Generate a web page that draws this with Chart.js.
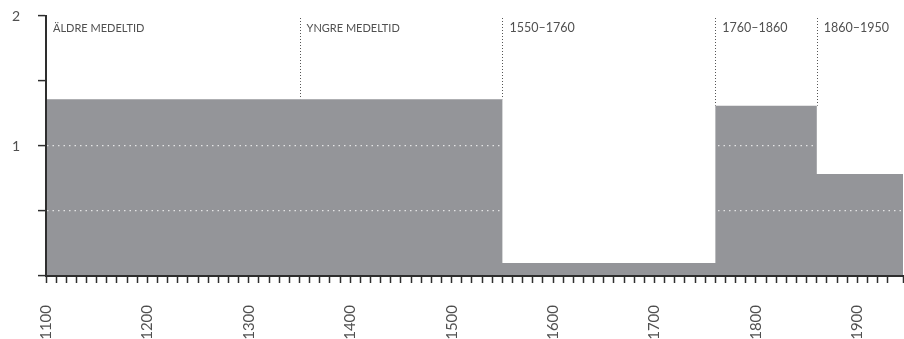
<!DOCTYPE html>
<html lang="sv">
<head>
<meta charset="utf-8">
<title>Perioder 1100–1950</title>
<script src="https://cdn.jsdelivr.net/npm/chart.js@4/dist/chart.umd.min.js"></script>
<style>
    html, body { margin: 0; padding: 0; background: #fff; }
    #wrap { width: 904px; height: 339px; position: relative; }
</style>
</head>
<body>
<div id="wrap"><canvas id="myChart"></canvas></div>
<script>
// step values: each value holds from its start year until the next start
const stepStarts = [1100, 1550, 1760, 1860];
const stepValues = [1.36, 0.10, 1.31, 0.785];
const lastYear = 1950;

// named periods shown along the top of the chart
const eraStarts = [1100, 1350, 1550, 1760, 1860];
const eraNames = ['ÄLDRE MEDELTID', 'YNGRE MEDELTID', '1550–1760', '1760–1860', '1860–1950'];
const eraSmallCaps = [true, true, false, false, false];

const fontFamily = 'Lato, "Open Sans", sans-serif';
const textColor = '#505050';
const axisColor = '#2e2e2e';

const points = stepStarts.map((x, i) => ({ x: x, y: stepValues[i] }));
points.push({ x: lastYear, y: stepValues[stepValues.length - 1] });

// value in force at a given year
function valueAt(year) {
    let v = 0;
    stepStarts.forEach((s, i) => { if (year >= s) v = stepValues[i]; });
    return v;
}

// dotted dividers and period names
const eraPlugin = {
    id: 'eras',
    beforeDatasetsDraw(chart) {
        const { ctx, chartArea, scales: { x, y } } = chart;
        ctx.save();
        ctx.strokeStyle = '#555';
        ctx.lineWidth = 1;
        ctx.setLineDash([1, 2]);
        eraStarts.forEach((year, i) => {
            if (i === 0) return;
            const px = Math.round(x.getPixelForValue(year)) + 0.5;
            const top = Math.max(valueAt(year - 1), valueAt(year));
            ctx.beginPath();
            ctx.moveTo(px, chartArea.top + 2);
            ctx.lineTo(px, y.getPixelForValue(top));
            ctx.stroke();
        });
        ctx.restore();
    },
    afterDatasetsDraw(chart) {
        const { ctx, chartArea, scales: { x } } = chart;
        ctx.save();
        ctx.fillStyle = textColor;
        ctx.textBaseline = 'middle';
        ctx.textAlign = 'left';
        eraNames.forEach((name, i) => {
            ctx.font = (eraSmallCaps[i] ? '400 11px ' : '400 12.5px ') + fontFamily;
            const px = x.getPixelForValue(eraStarts[i]);
            ctx.fillText(name, px + 7, chartArea.top + 12);
        });
        ctx.restore();
    }
};

const ctx = document.getElementById('myChart').getContext('2d');
const myChart = new Chart(ctx, {
    type: 'line',
    data: {
        datasets: [{
            data: points,
            stepped: true,
            fill: 'origin',
            backgroundColor: '#949599',
            borderWidth: 0,
            pointRadius: 0
        }]
    },
    plugins: [eraPlugin],
    options: {
        responsive: true,
        maintainAspectRatio: false,
        animation: false,
        devicePixelRatio: 1,
        layout: { padding: { top: 16, right: 1, left: 0, bottom: 0 } },
        plugins: {
            legend: { display: false },
            tooltip: { enabled: false }
        },
        scales: {
            x: {
                type: 'linear',
                min: 1100,
                max: 1945,
                afterFit(scale) {
                    scale.height = 63;
                    scale.paddingLeft = 0;
                    scale.paddingRight = 0;
                },
                border: { display: true, color: axisColor, width: 2, z: 2 },
                grid: {
                    drawOnChartArea: false,
                    drawTicks: true,
                    tickLength: 7,
                    tickColor: axisColor,
                    tickWidth: 1.5
                },
                ticks: {
                    stepSize: 10,
                    autoSkip: false,
                    minRotation: 90,
                    maxRotation: 90,
                    padding: 22,
                    color: textColor,
                    font: { family: fontFamily, size: 15, weight: '400' },
                    callback: (v) => (v % 100 === 0 ? String(v) : '')
                }
            },
            y: {
                min: 0,
                max: 2,
                afterFit(scale) {
                    scale.width = 46;
                    scale.paddingTop = 0;
                    scale.paddingBottom = 0;
                },
                border: { display: true, color: axisColor, width: 2, z: 2, dash: [1.5, 4] },
                grid: {
                    z: 1,
                    color: 'rgba(255,255,255,0.75)',
                    lineWidth: 1.2,
                    drawTicks: true,
                    tickLength: 8,
                    tickColor: axisColor,
                    tickWidth: 1.5,
                    tickBorderDash: []
                },
                ticks: {
                    stepSize: 0.5,
                    padding: 18,
                    color: textColor,
                    font: { family: fontFamily, size: 14, weight: '400' },
                    callback: (v) => (v > 0 && Number.isInteger(v) ? String(v) : '')
                }
            }
        }
    }
});
</script>
</body>
</html>
